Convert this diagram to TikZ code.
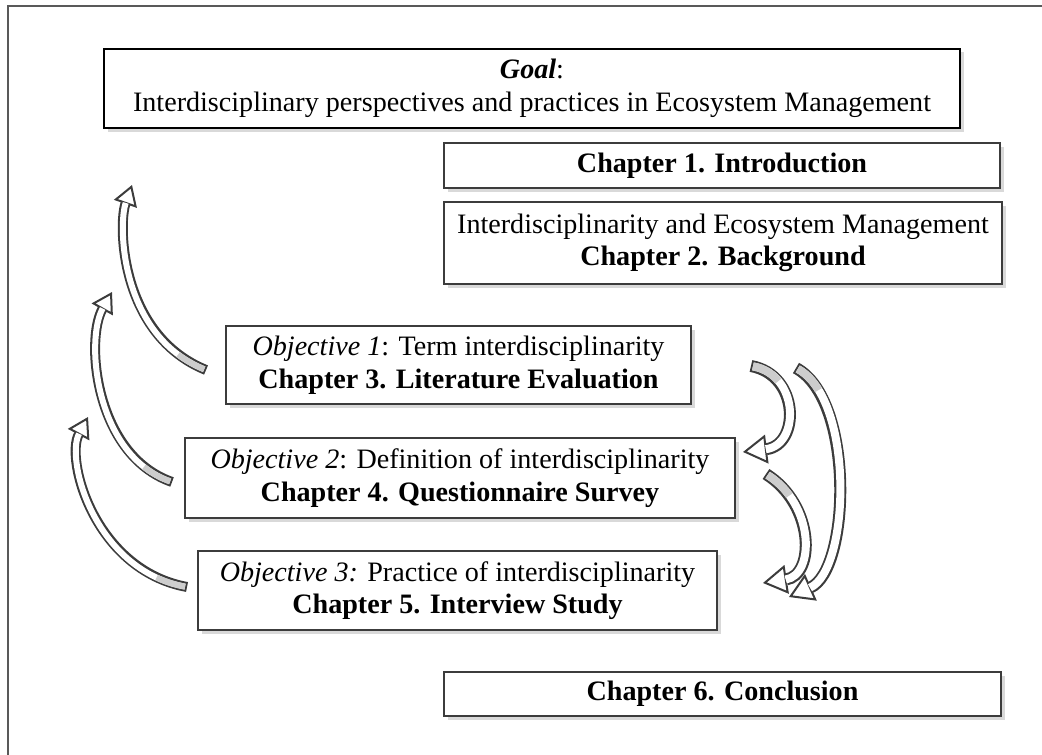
\documentclass[tikz,border=0pt]{standalone}
\usepackage{fontspec}
\setmainfont{Liberation Serif}
\usetikzlibrary{arrows.meta,shadows}
\definecolor{edgegray}{RGB}{60,60,60}
\definecolor{tailgray}{RGB}{205,205,205}
% curved block arrow: [shaft width]{start}{control 1}{control 2}{end}
\newcommand{\blockcurve}[5][2.4mm]{%
\draw[edgegray, line width=#1, -{Triangle[length=2*#1, width=2.4*#1, line width=0.4mm, fill=white]}] #2 .. controls #3 and #4 .. #5;
\draw[white, line width=#1-0.8mm, shorten <=0.4mm, shorten >=2*#1-0.2mm] #2 .. controls #3 and #4 .. #5;
\draw[tailgray, line width=#1-0.8mm, shorten <=0.4mm, dash pattern=on 6mm off 40cm] #2 .. controls #3 and #4 .. #5;
}
\begin{document}
\begin{tikzpicture}[
  chapbox/.style={draw=edgegray, line width=1.1pt, fill=white, align=center, inner sep=0pt,
    font=\fontsize{16}{18.6}\selectfont,
    drop shadow={opacity=0.3, shadow xshift=0.07cm, shadow yshift=-0.07cm}},
  goalbox/.style={chapbox, draw=black, line width=1.6pt}]
\useasboundingbox (0,0) rectangle (20.84,-15.1);
\draw[line width=1pt, black!65] (0.16,-15.1) |- (20.84,-0.12);

\node[goalbox, minimum width=17.12cm, minimum height=1.58cm] (goal) at (10.64,-1.77) {\textbf{\textit{Goal}}:\\Interdisciplinary perspectives and practices in Ecosystem Management};
\node[chapbox, minimum width=11.12cm, minimum height=0.9cm] (intro) at (14.44,-3.31) {\textbf{Chapter 1. Introduction}};
\node[chapbox, minimum width=11.16cm, minimum height=1.64cm] (back) at (14.46,-4.86) {Interdisciplinarity and Ecosystem Management\\\textbf{Chapter 2. Background}};
\node[chapbox, minimum width=9.3cm, minimum height=1.56cm] (obj1) at (9.17,-7.3) {\textit{Objective 1}: Term interdisciplinarity\\\textbf{Chapter 3. Literature Evaluation}};
\node[chapbox, minimum width=11.0cm, minimum height=1.6cm] (obj2) at (9.2,-9.56) {\textit{Objective 2}: Definition of interdisciplinarity\\\textbf{Chapter 4. Questionnaire Survey}};
\node[chapbox, minimum width=10.38cm, minimum height=1.58cm] (obj3) at (9.15,-11.81) {\textit{Objective 3:} Practice of interdisciplinarity\\\textbf{Chapter 5. Interview Study}};
\node[chapbox, minimum width=11.14cm, minimum height=0.88cm] (concl) at (14.45,-13.88) {\textbf{Chapter 6. Conclusion}};

% arrows back up on the left
\coordinate (up1) at (2.64,-3.70);
\coordinate (up2) at (2.24,-5.84);
\coordinate (up3) at (1.76,-8.34);
\blockcurve[2.0mm]{([shift={(-0.38,-0.1)}]obj1.west)}{(2.40,-6.70)}{(2.36,-4.50)}{(up1)}
\blockcurve[2.0mm]{([shift={(-0.24,-0.08)}]obj2.west)}{(1.90,-9.10)}{(1.70,-6.80)}{(up2)}
\blockcurve[2.0mm]{([shift={(-0.2,0.07)}]obj3.west)}{(1.90,-11.40)}{(1.30,-9.20)}{(up3)}

% arrows down on the right
\blockcurve{([shift={(1.18,-0.02)}]obj1.east)}{(16.0,-7.5)}{(16.0,-8.9)}{([shift={(0.14,0.52)}]obj2.east)}
\blockcurve{([shift={(0.6,0.08)}]obj2.east)}{(16.3,-10.1)}{(16.3,-11.5)}{([shift={(0.9,0.15)}]obj3.east)}
\blockcurve{([shift={(2.08,-0.06)}]obj1.east)}{(17.1,-8.0)}{(17.0,-11.4)}{([shift={(1.42,-0.13)}]obj3.east)}
\end{tikzpicture}
\end{document}
